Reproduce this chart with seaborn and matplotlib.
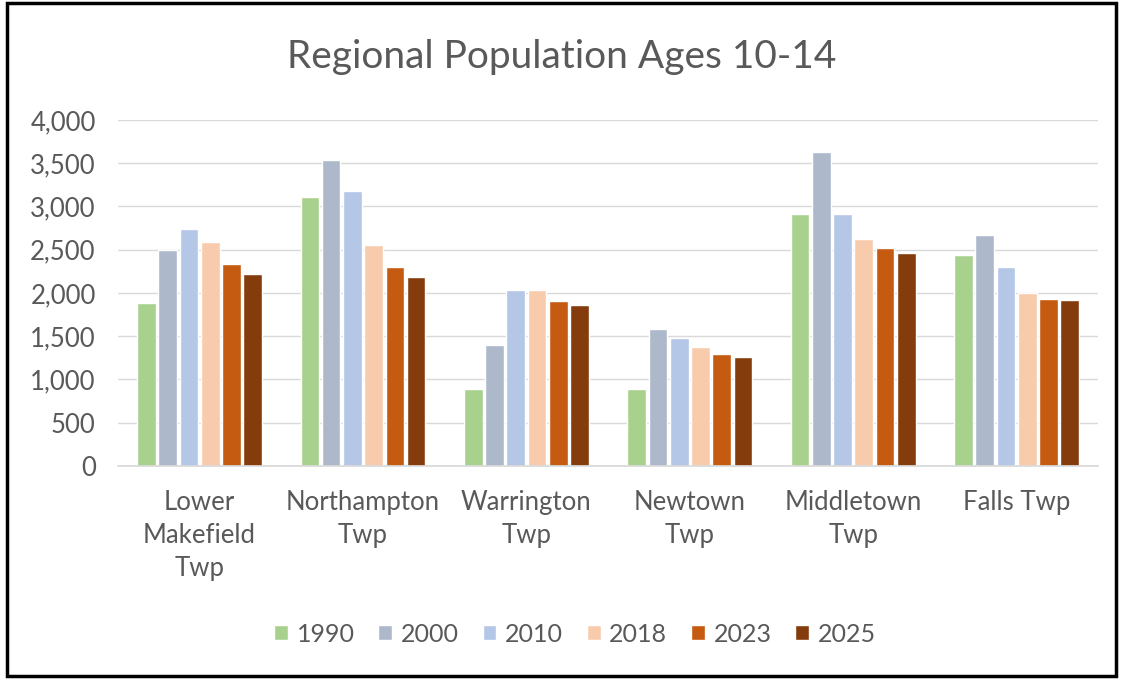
import seaborn as sns
import matplotlib.pyplot as plt
import pandas as pd
from matplotlib.patches import Rectangle
from matplotlib.ticker import FuncFormatter

# --- data ---
townships = ["Lower\nMakefield\nTwp", "Northampton\nTwp", "Warrington\nTwp",
             "Newtown\nTwp", "Middletown\nTwp", "Falls Twp"]
years = ["1990", "2000", "2010", "2018", "2023", "2025"]

pop_1990 = [1880, 3110, 895, 895, 2915, 2435]
pop_2000 = [2500, 3540, 1395, 1585, 3625, 2675]
pop_2010 = [2745, 3180, 2035, 1485, 2915, 2295]
pop_2018 = [2585, 2555, 2035, 1380, 2625, 2000]
pop_2023 = [2330, 2295, 1910, 1295, 2520, 1930]
pop_2025 = [2225, 2190, 1860, 1260, 2465, 1915]

colors = ["#A9D18E", "#ADB9CA", "#B4C7E7", "#F8CBAD", "#C55A11", "#843C0C"]

series = [pop_1990, pop_2000, pop_2010, pop_2018, pop_2023, pop_2025]
rows = []
for year, vals in zip(years, series):
    for town, v in zip(townships, vals):
        rows.append({"township": town, "year": year, "population": v})
df = pd.DataFrame(rows)

sns.set_theme(style="white")
plt.rcParams["font.family"] = ["Lato", "DejaVu Sans"]
text_color = "#595959"

fig = plt.figure(figsize=(11.23, 6.79), dpi=100)
ax = fig.add_axes([0.105, 0.3137, 0.873, 0.5096])

sns.barplot(data=df, x="township", y="population", hue="year",
            palette=colors, saturation=1, width=0.78, gap=0.12,
            edgecolor="white", linewidth=1, ax=ax, legend=True)

ax.set_ylim(0, 4000)
ax.set_yticks(range(0, 4001, 500))
ax.yaxis.set_major_formatter(FuncFormatter(lambda v, p: f"{int(v):,}"))
ax.grid(axis="y", color="#D9D9D9", linewidth=1)
ax.set_axisbelow(True)
for s in ["top", "right", "left"]:
    ax.spines[s].set_visible(False)
ax.spines["bottom"].set_color("#D9D9D9")
ax.tick_params(axis="both", length=0, labelsize=18.5, colors=text_color)
ax.tick_params(axis="y", pad=16)
ax.tick_params(axis="x", pad=17)
for lbl in ax.get_xticklabels():
    lbl.set_linespacing(1.4)
ax.set_xlabel("")
ax.set_ylabel("")

fig.text(0.5, 0.916, "Regional Population Ages 10-14", fontsize=28,
         color=text_color, ha="center", va="center")

handles, labels = ax.get_legend_handles_labels()
ax.legend_.remove()
fig.legend(handles, labels, loc="center", bbox_to_anchor=(0.512, 0.066),
           ncol=6, frameon=False, fontsize=18, handlelength=0.55,
           handleheight=0.55, handletextpad=0.35, columnspacing=0.95,
           labelcolor=text_color)

# black frame around the chart
fig.patches.append(Rectangle((0.006, 0.004), 0.988, 0.992, transform=fig.transFigure,
                             fill=False, edgecolor="black", linewidth=2.5))

fig.savefig("out.png", dpi=100)
